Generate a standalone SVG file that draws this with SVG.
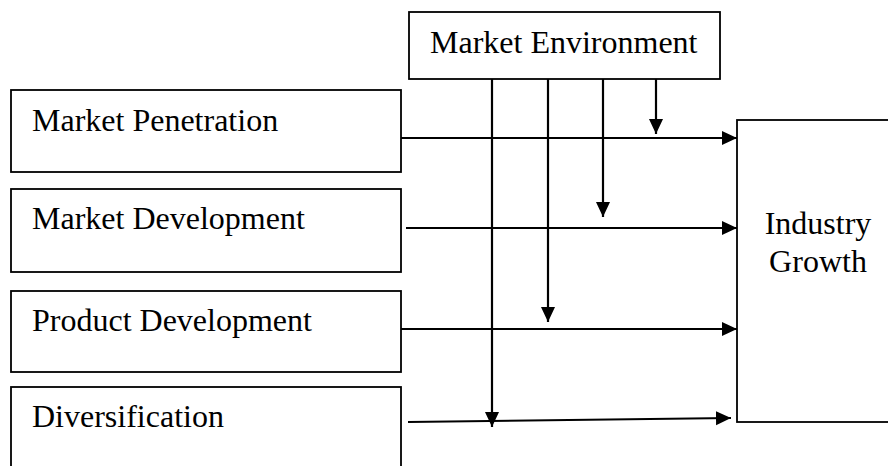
<svg xmlns="http://www.w3.org/2000/svg" width="888" height="466" viewBox="0 0 888 466">
<style>
.box{fill:#fff;stroke:#000;stroke-width:1.8}
.lbl{font-family:"Liberation Serif","Times New Roman",serif;font-size:32px;fill:#000}
.con{stroke:#000;stroke-width:2.2;fill:none;marker-end:url(#ah)}
</style>
<defs>
<marker id="ah" markerUnits="userSpaceOnUse" markerWidth="16" markerHeight="15" refX="15" refY="7" orient="auto" viewBox="0 0 16 15">
<path d="M0,0 L15,7 L0,14 z" fill="#000"/>
</marker>
</defs>
<rect width="888" height="466" fill="#fff"/>
<g id="market-environment">
<rect class="box" x="409" y="12" width="311" height="67"/>
<text class="lbl" x="430" y="53">Market Environment</text>
</g>
<g id="market-penetration">
<rect class="box" x="11" y="90" width="390" height="82"/>
<text class="lbl" x="32" y="131">Market Penetration</text>
</g>
<g id="market-development">
<rect class="box" x="11" y="189" width="390" height="83"/>
<text class="lbl" x="32" y="229">Market Development</text>
</g>
<g id="product-development">
<rect class="box" x="11" y="291" width="390" height="81"/>
<text class="lbl" x="32" y="331">Product Development</text>
</g>
<g id="diversification">
<rect class="box" x="11" y="387" width="390" height="90"/>
<text class="lbl" x="32" y="427">Diversification</text>
</g>
<g id="industry-growth">
<rect class="box" x="737" y="120" width="160" height="302"/>
<text class="lbl" x="818" y="234" text-anchor="middle">Industry</text>
<text class="lbl" x="818" y="272" text-anchor="middle">Growth</text>
</g>
<g id="connectors">
<line class="con" x1="401" y1="138" x2="737" y2="138"/>
<line class="con" x1="406" y1="228" x2="737" y2="228"/>
<line class="con" x1="401" y1="329" x2="737" y2="329"/>
<line class="con" x1="408" y1="422" x2="731" y2="418"/>
<line class="con" x1="492" y1="79" x2="492" y2="427"/>
<line class="con" x1="548" y1="79" x2="548" y2="322"/>
<line class="con" x1="603" y1="79" x2="603" y2="217"/>
<line class="con" x1="656" y1="79" x2="656" y2="134"/>
</g>
</svg>
